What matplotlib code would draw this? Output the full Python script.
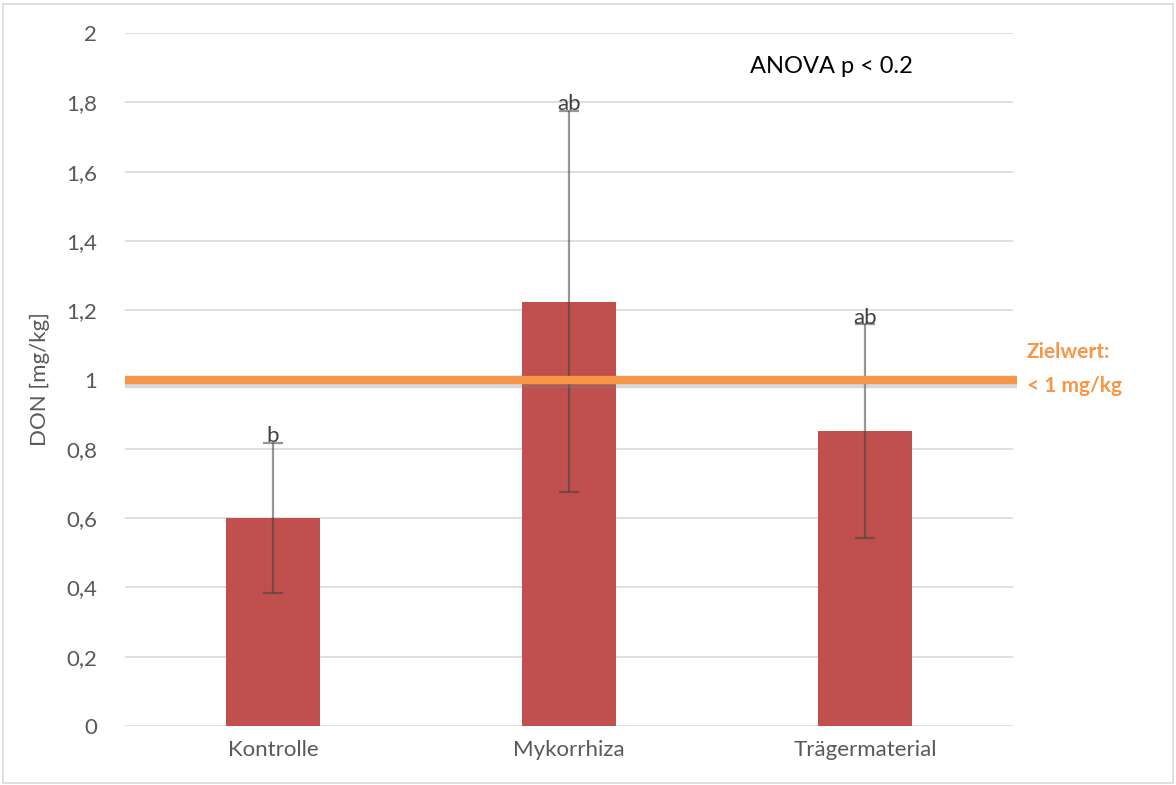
import matplotlib.pyplot as plt
from matplotlib.patches import Rectangle
import matplotlib.patheffects as pe

categories = ["Kontrolle", "Mykorrhiza", "Trägermaterial"]
don_means = [0.60, 1.225, 0.851]
don_err = [0.217, 0.55, 0.308]
letters = ["b", "ab", "ab"]
target_value = 1.0
yticks = [0, 0.2, 0.4, 0.6, 0.8, 1.0, 1.2, 1.4, 1.6, 1.8, 2.0]
ytick_labels = ["0", "0,2", "0,4", "0,6", "0,8", "1", "1,2", "1,4", "1,6", "1,8", "2"]

plt.rcParams['font.family'] = ['Lato', 'DejaVu Sans']

fig = plt.figure(figsize=(11.76, 7.85), dpi=100)
ax = fig.add_axes([125 / 1176, 1 - 726 / 785, 888 / 1176, 693 / 785])

# outer chart frame
fig.patches.append(Rectangle((3 / 1176, 0.002), 1 - 6 / 1176, 1 - 6 / 785,
                             transform=fig.transFigure, fill=False,
                             edgecolor="#D9D9D9", linewidth=1.2))

x = list(range(len(categories)))
ax.bar(x, don_means, width=0.315, color="#C0504D", zorder=2)
ax.errorbar(x, don_means, yerr=don_err, fmt="none", ecolor=(0.25, 0.25, 0.25, 0.55),
            elinewidth=1.6, capsize=7, capthick=1.6, zorder=3)

for xi, m, e, lab in zip(x, don_means, don_err, letters):
    ax.text(xi, m + e - 0.01, lab, ha="center", va="bottom",
            fontsize=16, color="#404040", zorder=4)

ax.plot([-0.5, 2.515], [target_value, target_value], color="#F79646",
        linewidth=6, solid_capstyle="butt", zorder=5, clip_on=False,
        path_effects=[pe.SimpleLineShadow(offset=(0, -3), shadow_color="#7F7F7F", alpha=0.3),
                      pe.Normal()])

fig.text(1027 / 1176, 1 - 352 / 785, "Zielwert:", color="#F79646",
         fontsize=15, fontweight="bold", va="center", ha="left")
fig.text(1027 / 1176, 1 - 386 / 785, "< 1 mg/kg", color="#F79646",
         fontsize=15, fontweight="bold", va="center", ha="left")

ax.text(0.796, 0.952, "ANOVA p < 0.2", transform=ax.transAxes,
        fontsize=17, color="black", ha="center", va="center")

ax.set_xlim(-0.5, 2.5)
ax.set_ylim(0, 2)
ax.set_yticks(yticks)
ax.set_yticklabels(ytick_labels)
ax.set_xticks(x)
ax.set_xticklabels(categories)
ax.tick_params(axis="both", length=0, labelsize=16, labelcolor="#595959")
ax.tick_params(axis="y", pad=20)
ax.tick_params(axis="x", pad=10)
ax.grid(axis="y", color="#D9D9D9", linewidth=1.2, zorder=0)
ax.set_axisbelow(True)
for s in ax.spines.values():
    s.set_visible(False)

ax.set_ylabel("DON [mg/kg]", fontsize=16, color="#595959", labelpad=12)

fig.savefig("out.png", dpi=100)
